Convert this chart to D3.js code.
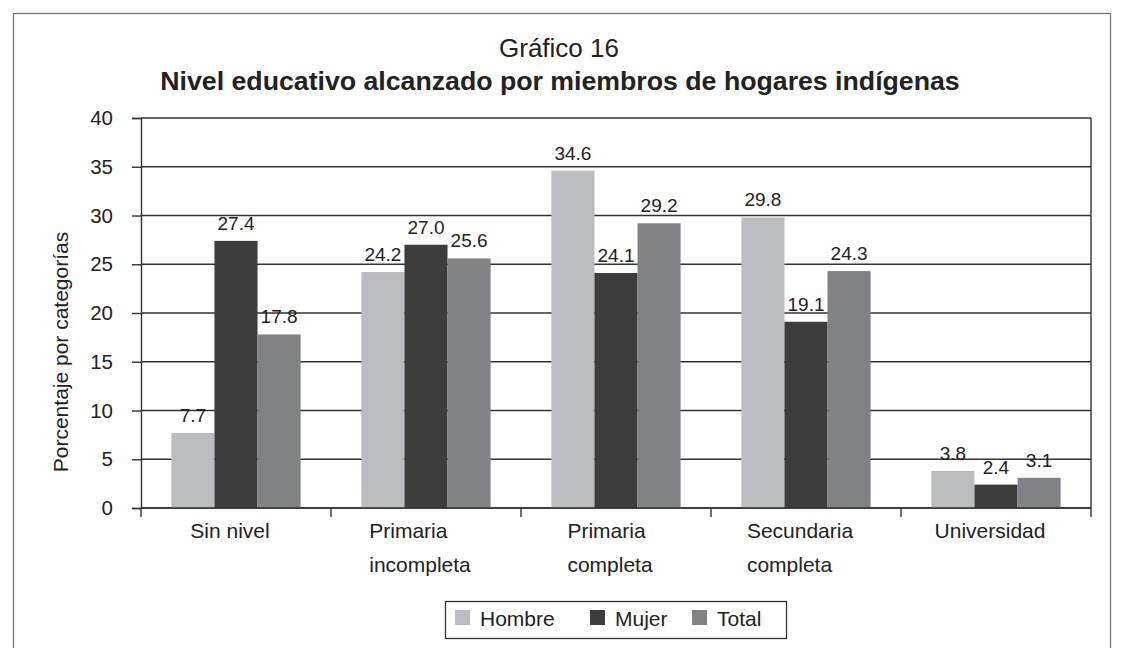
<!DOCTYPE html>
<html>
<head>
<meta charset="utf-8">
<script src="https://cdn.jsdelivr.net/npm/d3@7"></script>
<style>
  body { margin: 0; background: #fff; }
  text { font-family: "Liberation Sans", Arial, sans-serif; fill: #222; }
</style>
</head>
<body>
<div id="chart"></div>
<script>
// data
var categories = [["Sin nivel"], ["Primaria", "incompleta"], ["Primaria", "completa"], ["Secundaria", "completa"], ["Universidad"]];
var seriesNames = ["Hombre", "Mujer", "Total"];
var hombre = [7.7, 24.2, 34.6, 29.8, 3.8];
var mujer = [27.4, 27.0, 24.1, 19.1, 2.4];
var total = [17.8, 25.6, 29.2, 24.3, 3.1];
var yTicks = [0, 5, 10, 15, 20, 25, 30, 35, 40];

var colors = ["#bbbcc0", "#3d3d3d", "#818286"];

var Chart_Width = 1124;
var Chart_Height = 648;
var margin = { top: 118, right: 33, bottom: 140, left: 141 };
var width = Chart_Width - margin.left - margin.right;
var height = Chart_Height - margin.top - margin.bottom;

var svg = d3.select("#chart")
  .append("svg")
  .attr("width", Chart_Width)
  .attr("height", Chart_Height);

// outer frame
svg.append("rect")
  .attr("x", 13.5).attr("y", 13.5)
  .attr("width", 1097).attr("height", 660)
  .attr("fill", "none")
  .attr("stroke", "#777")
  .attr("stroke-width", 1.3);

// titles
svg.append("text")
  .attr("x", 559).attr("y", 57)
  .attr("text-anchor", "middle")
  .attr("font-size", "26px")
  .text("Gráfico 16");

svg.append("text")
  .attr("x", 560).attr("y", 90)
  .attr("text-anchor", "middle")
  .attr("font-size", "26.7px")
  .attr("font-weight", "bold")
  .text("Nivel educativo alcanzado por miembros de hogares indígenas");

var g = svg.append("g")
  .attr("transform", `translate(${margin.left}, ${margin.top})`);

var catKeys = categories.map(c => c.join(" "));

var x0 = d3.scaleBand()
  .domain(catKeys)
  .range([0, width])
  .paddingInner(0.32)
  .paddingOuter(0.16);

var x1 = d3.scaleBand()
  .domain(seriesNames)
  .range([0, x0.bandwidth()]);

var y = d3.scaleLinear()
  .domain([0, 40])
  .range([height, 0]);

// grid lines
g.append("g")
  .selectAll("line")
  .data(yTicks)
  .enter()
  .append("line")
  .attr("x1", 0).attr("x2", width)
  .attr("y1", d => y(d)).attr("y2", d => y(d))
  .attr("stroke", "#333")
  .attr("stroke-width", 1.4);

// right border
g.append("line")
  .attr("x1", width).attr("x2", width)
  .attr("y1", 0).attr("y2", height)
  .attr("stroke", "#333")
  .attr("stroke-width", 1.4);

var rows = catKeys.map((c, i) => ({ cat: c, values: [hombre[i], mujer[i], total[i]] }));

var groups = g.selectAll(".grp")
  .data(rows)
  .enter()
  .append("g")
  .attr("class", "grp")
  .attr("transform", d => `translate(${x0(d.cat)}, 0)`);

groups.selectAll("rect")
  .data(d => d.values.map((v, j) => ({ key: seriesNames[j], value: v, j: j })))
  .enter()
  .append("rect")
  .attr("x", d => x1(d.key))
  .attr("y", d => y(d.value))
  .attr("width", x1.bandwidth())
  .attr("height", d => height - y(d.value))
  .attr("fill", d => colors[d.j]);

groups.selectAll(".val")
  .data(d => d.values.map((v, j) => ({ key: seriesNames[j], value: v })))
  .enter()
  .append("text")
  .attr("class", "val")
  .attr("x", d => x1(d.key) + x1.bandwidth() / 2)
  .attr("y", d => y(d.value) - 11)
  .attr("text-anchor", "middle")
  .attr("font-size", "19px")
  .text(d => d.value.toFixed(1));

// y axis
var leftAxis = d3.axisLeft(y)
  .tickValues(yTicks)
  .tickSize(9)
  .tickPadding(19);

var yAxis = g.append("g").call(leftAxis);
yAxis.select(".domain").attr("stroke", "#333").attr("stroke-width", 1.4);
yAxis.selectAll(".tick line").attr("stroke", "#333").attr("stroke-width", 1.4);
yAxis.selectAll(".tick text")
  .attr("font-size", "20.5px")
  .attr("fill", "#222")
  .attr("font-family", "Liberation Sans, Arial, sans-serif");

// x axis line and boundary ticks
var step = x0.step();
var bounds = catKeys.map(c => x0(c) - step * x0.paddingInner() / 2).concat([width]);

g.append("line")
  .attr("x1", 0).attr("x2", width)
  .attr("y1", height).attr("y2", height)
  .attr("stroke", "#333")
  .attr("stroke-width", 1.6);

g.append("g")
  .selectAll("line")
  .data(bounds)
  .enter()
  .append("line")
  .attr("x1", d => d).attr("x2", d => d)
  .attr("y1", height).attr("y2", height + 9)
  .attr("stroke", "#333")
  .attr("stroke-width", 1.4);

// category labels, lines left aligned, block centred
categories.forEach(function(lines, i) {
  var t = g.append("text")
    .attr("font-size", "21px");
  lines.forEach(function(line, k) {
    t.append("tspan")
      .attr("y", height + 30 + k * 34)
      .text(line);
  });
  var maxW = d3.max(t.selectAll("tspan").nodes(), n => n.getComputedTextLength());
  var cx = x0(catKeys[i]) + x0.bandwidth() / 2 - 6;
  t.selectAll("tspan").attr("x", cx - maxW / 2);
});

// y axis title
svg.append("text")
  .attr("transform", "translate(68, 352) rotate(-90)")
  .attr("text-anchor", "middle")
  .attr("font-size", "21px")
  .text("Porcentaje por categorías");

// legend
var legend = svg.append("g");
legend.append("rect")
  .attr("x", 445.5).attr("y", 601.5)
  .attr("width", 341).attr("height", 37)
  .attr("fill", "#fff")
  .attr("stroke", "#333")
  .attr("stroke-width", 1.3);

var legendX = [455, 590, 692];
seriesNames.forEach(function(name, i) {
  legend.append("rect")
    .attr("x", legendX[i]).attr("y", 610)
    .attr("width", 15).attr("height", 15)
    .attr("fill", colors[i]);
  legend.append("text")
    .attr("x", legendX[i] + 25).attr("y", 626)
    .attr("font-size", "21px")
    .text(name);
});
</script>
</body>
</html>
